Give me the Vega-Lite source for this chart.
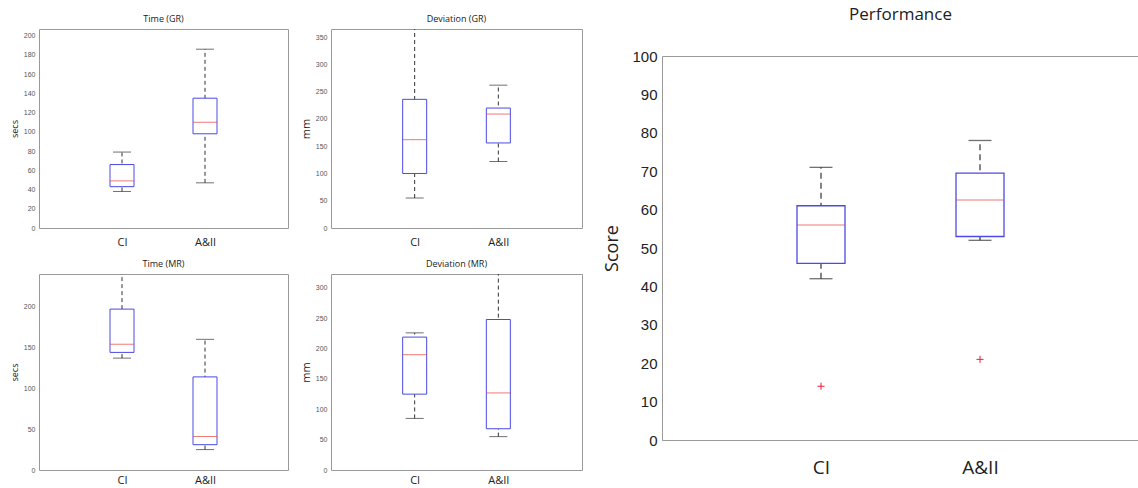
{
  "$schema": "https://vega.github.io/schema/vega-lite/v6.json",
  "padding": {"left": 9, "top": 6, "right": 0, "bottom": 0},
  "background": "white",
  "config": {
    "view": {"stroke": "#999999", "strokeWidth": 1},
    "font": "Liberation Sans",
    "axis": {"labelOverlap": false}
  },
  "datasets": {
    "boxes": [
      {"panel": "Time (GR)", "group": "CI", "low": 38, "q1": 43, "median": 49, "q3": 66, "high": 79},
      {"panel": "Time (GR)", "group": "A&II", "low": 47, "q1": 98, "median": 110, "q3": 135, "high": 186},
      {"panel": "Deviation (GR)", "group": "CI", "low": 55, "q1": 100, "median": 162, "q3": 236, "high": 400},
      {"panel": "Deviation (GR)", "group": "A&II", "low": 122, "q1": 156, "median": 209, "q3": 220, "high": 262},
      {"panel": "Time (MR)", "group": "CI", "low": 137, "q1": 144, "median": 154, "q3": 197, "high": 300},
      {"panel": "Time (MR)", "group": "A&II", "low": 25, "q1": 31, "median": 41, "q3": 114, "high": 160},
      {"panel": "Deviation (MR)", "group": "CI", "low": 85, "q1": 125, "median": 190, "q3": 219, "high": 226},
      {"panel": "Deviation (MR)", "group": "A&II", "low": 55, "q1": 68, "median": 127, "q3": 248, "high": 400},
      {"panel": "Performance", "group": "CI", "low": 42, "q1": 46, "median": 56, "q3": 61, "high": 71},
      {"panel": "Performance", "group": "A&II", "low": 52, "q1": 53, "median": 62.5, "q3": 69.5, "high": 78}
    ],
    "outliers": [
      {"panel": "Performance", "group": "CI", "value": 14},
      {"panel": "Performance", "group": "A&II", "value": 21}
    ],
    "empty": []
  },
  "spacing": 20,
  "hconcat": [
    {
      "columns": 2,
      "spacing": {"row": 11, "column": 10},
      "concat": [
        {
          "width": 249, "height": 199,
          "data": {"name": "boxes"},
          "transform": [{"filter": "datum.panel === 'Time (GR)'"}],
          "title": {"text": "Time (GR)", "fontSize": 9, "fontWeight": "normal", "font": "Open Sans", "color": "#222", "offset": 5},
          "encoding": {
            "x": {"field": "group", "type": "nominal", "sort": ["CI", "A&II"], "scale": {"type": "point", "padding": 1},
                  "axis": {"title": null, "labelAngle": 0, "labelFontSize": 11, "labelFont": "Open Sans", "labelColor": "#222", "labelPadding": 8, "ticks": false, "domain": false}}
          },
          "layer": [
            {"mark": {"type": "rule", "color": "#333", "strokeDash": [4, 3], "clip": true},
             "encoding": {"y": {"field": "low", "type": "quantitative", "scale": {"domain": [0, 207], "nice": false},
                                "axis": {"title": "secs", "values": [0, 20, 40, 60, 80, 100, 120, 140, 160, 180, 200], "tickCount": 30, "labelOverlap": false, "labelFontSize": 7, "labelColor": "#555", "labelPadding": 4, "ticks": false, "domain": false, "grid": false, "titleFontSize": 9, "titleFont": "Open Sans", "titleFontWeight": "normal", "titleColor": "#222", "titlePadding": 4}},
                          "y2": {"field": "high"}}},
            {"mark": {"type": "bar", "size": 24, "fill": "white", "stroke": "#4a4ae8", "strokeWidth": 1, "clip": true},
             "encoding": {"y": {"field": "q1", "type": "quantitative", "title": "secs"}, "y2": {"field": "q3"}}},
            {"mark": {"type": "tick", "size": 24, "thickness": 1, "color": "#e8403a", "clip": true},
             "encoding": {"y": {"field": "median", "type": "quantitative", "title": "secs"}}},
            {"mark": {"type": "tick", "size": 18, "thickness": 1, "color": "#333", "clip": true},
             "encoding": {"y": {"field": "low", "type": "quantitative", "title": "secs"}}},
            {"mark": {"type": "tick", "size": 18, "thickness": 1, "color": "#333", "clip": true},
             "encoding": {"y": {"field": "high", "type": "quantitative", "title": "secs"}}}
          ]
        },
        {
          "width": 251, "height": 199,
          "data": {"name": "boxes"},
          "transform": [{"filter": "datum.panel === 'Deviation (GR)'"}],
          "title": {"text": "Deviation (GR)", "fontSize": 9, "fontWeight": "normal", "font": "Open Sans", "color": "#222", "offset": 5},
          "encoding": {
            "x": {"field": "group", "type": "nominal", "sort": ["CI", "A&II"], "scale": {"type": "point", "padding": 1},
                  "axis": {"title": null, "labelAngle": 0, "labelFontSize": 11, "labelFont": "Open Sans", "labelColor": "#222", "labelPadding": 8, "ticks": false, "domain": false}}
          },
          "layer": [
            {"mark": {"type": "rule", "color": "#333", "strokeDash": [4, 3], "clip": true},
             "encoding": {"y": {"field": "low", "type": "quantitative", "scale": {"domain": [0, 365], "nice": false},
                                "axis": {"title": "mm", "values": [0, 50, 100, 150, 200, 250, 300, 350], "tickCount": 30, "labelOverlap": false, "labelFontSize": 7, "labelColor": "#555", "labelPadding": 4, "ticks": false, "domain": false, "grid": false, "titleFontSize": 11, "titleFont": "Open Sans", "titleFontWeight": "normal", "titleColor": "#222", "titlePadding": 4}},
                          "y2": {"field": "high"}}},
            {"mark": {"type": "bar", "size": 24, "fill": "white", "stroke": "#4a4ae8", "strokeWidth": 1, "clip": true},
             "encoding": {"y": {"field": "q1", "type": "quantitative", "title": "mm"}, "y2": {"field": "q3"}}},
            {"mark": {"type": "tick", "size": 24, "thickness": 1, "color": "#e8403a", "clip": true},
             "encoding": {"y": {"field": "median", "type": "quantitative", "title": "mm"}}},
            {"mark": {"type": "tick", "size": 18, "thickness": 1, "color": "#333", "clip": true},
             "encoding": {"y": {"field": "low", "type": "quantitative", "title": "mm"}}},
            {"mark": {"type": "tick", "size": 18, "thickness": 1, "color": "#333", "clip": true},
             "encoding": {"y": {"field": "high", "type": "quantitative", "title": "mm"}}}
          ]
        },
        {
          "width": 249, "height": 196,
          "data": {"name": "boxes"},
          "transform": [{"filter": "datum.panel === 'Time (MR)'"}],
          "title": {"text": "Time (MR)", "fontSize": 9, "fontWeight": "normal", "font": "Open Sans", "color": "#222", "offset": 5},
          "encoding": {
            "x": {"field": "group", "type": "nominal", "sort": ["CI", "A&II"], "scale": {"type": "point", "padding": 1},
                  "axis": {"title": null, "labelAngle": 0, "labelFontSize": 11, "labelFont": "Open Sans", "labelColor": "#222", "labelPadding": 4, "ticks": false, "domain": false}}
          },
          "layer": [
            {"mark": {"type": "rule", "color": "#333", "strokeDash": [4, 3], "clip": true},
             "encoding": {"y": {"field": "low", "type": "quantitative", "scale": {"domain": [0, 240], "nice": false},
                                "axis": {"title": "secs", "values": [0, 50, 100, 150, 200], "tickCount": 30, "labelOverlap": false, "labelFontSize": 7, "labelColor": "#555", "labelPadding": 4, "ticks": false, "domain": false, "grid": false, "titleFontSize": 9, "titleFont": "Open Sans", "titleFontWeight": "normal", "titleColor": "#222", "titlePadding": 4}},
                          "y2": {"field": "high"}}},
            {"mark": {"type": "bar", "size": 24, "fill": "white", "stroke": "#4a4ae8", "strokeWidth": 1, "clip": true},
             "encoding": {"y": {"field": "q1", "type": "quantitative", "title": "secs"}, "y2": {"field": "q3"}}},
            {"mark": {"type": "tick", "size": 24, "thickness": 1, "color": "#e8403a", "clip": true},
             "encoding": {"y": {"field": "median", "type": "quantitative", "title": "secs"}}},
            {"mark": {"type": "tick", "size": 18, "thickness": 1, "color": "#333", "clip": true},
             "encoding": {"y": {"field": "low", "type": "quantitative", "title": "secs"}}},
            {"mark": {"type": "tick", "size": 18, "thickness": 1, "color": "#333", "clip": true},
             "encoding": {"y": {"field": "high", "type": "quantitative", "title": "secs"}}}
          ]
        },
        {
          "width": 251, "height": 196,
          "data": {"name": "boxes"},
          "transform": [{"filter": "datum.panel === 'Deviation (MR)'"}],
          "title": {"text": "Deviation (MR)", "fontSize": 9, "fontWeight": "normal", "font": "Open Sans", "color": "#222", "offset": 5},
          "encoding": {
            "x": {"field": "group", "type": "nominal", "sort": ["CI", "A&II"], "scale": {"type": "point", "padding": 1},
                  "axis": {"title": null, "labelAngle": 0, "labelFontSize": 11, "labelFont": "Open Sans", "labelColor": "#222", "labelPadding": 4, "ticks": false, "domain": false}}
          },
          "layer": [
            {"mark": {"type": "rule", "color": "#333", "strokeDash": [4, 3], "clip": true},
             "encoding": {"y": {"field": "low", "type": "quantitative", "scale": {"domain": [0, 323], "nice": false},
                                "axis": {"title": "mm", "values": [0, 50, 100, 150, 200, 250, 300], "tickCount": 30, "labelOverlap": false, "labelFontSize": 7, "labelColor": "#555", "labelPadding": 4, "ticks": false, "domain": false, "grid": false, "titleFontSize": 11, "titleFont": "Open Sans", "titleFontWeight": "normal", "titleColor": "#222", "titlePadding": 4}},
                          "y2": {"field": "high"}}},
            {"mark": {"type": "bar", "size": 24, "fill": "white", "stroke": "#4a4ae8", "strokeWidth": 1, "clip": true},
             "encoding": {"y": {"field": "q1", "type": "quantitative", "title": "mm"}, "y2": {"field": "q3"}}},
            {"mark": {"type": "tick", "size": 24, "thickness": 1, "color": "#e8403a", "clip": true},
             "encoding": {"y": {"field": "median", "type": "quantitative", "title": "mm"}}},
            {"mark": {"type": "tick", "size": 18, "thickness": 1, "color": "#333", "clip": true},
             "encoding": {"y": {"field": "low", "type": "quantitative", "title": "mm"}}},
            {"mark": {"type": "tick", "size": 18, "thickness": 1, "color": "#333", "clip": true},
             "encoding": {"y": {"field": "high", "type": "quantitative", "title": "mm"}}}
          ]
        }
      ]
    },
    {
      "spacing": 18,
      "vconcat": [
        {
          "width": 477, "height": 1,
          "view": {"stroke": null},
          "data": {"name": "empty"},
          "title": {"text": "Performance", "fontSize": 17, "fontWeight": "normal", "font": "Open Sans", "color": "#222", "offset": 5},
          "mark": {"type": "point"},
          "encoding": {}
        },
        {
          "width": 477, "height": 384,
          "encoding": {
            "x": {"field": "group", "type": "nominal", "sort": ["CI", "A&II"], "scale": {"type": "point", "padding": 1},
                  "axis": {"title": null, "labelAngle": 0, "labelFontSize": 19, "labelFont": "Open Sans", "labelColor": "#222", "labelPadding": 18, "ticks": false, "domain": false}}
          },
          "layer": [
            {"data": {"name": "boxes"},
             "transform": [{"filter": "datum.panel === 'Performance'"}],
             "layer": [
               {"mark": {"type": "rule", "color": "#333", "strokeDash": [6, 4], "strokeWidth": 1.2, "clip": true},
                "encoding": {"y": {"field": "low", "type": "quantitative", "scale": {"domain": [0, 100], "nice": false},
                                   "axis": {"title": "Score", "values": [0, 10, 20, 30, 40, 50, 60, 70, 80, 90, 100], "tickCount": 30, "labelOverlap": false, "labelFontSize": 15, "labelColor": "#222", "labelPadding": 5, "ticks": false, "domain": false, "grid": false, "titleFontSize": 18, "titleFont": "Open Sans", "titleFontWeight": "normal", "titleColor": "#222", "titlePadding": 10}},
                             "y2": {"field": "high"}}},
               {"mark": {"type": "bar", "size": 48, "fill": "white", "stroke": "#4a4ae8", "strokeWidth": 1.3, "clip": true},
                "encoding": {"y": {"field": "q1", "type": "quantitative", "title": "Score"}, "y2": {"field": "q3"}}},
               {"mark": {"type": "tick", "size": 48, "thickness": 1, "color": "#e8403a", "clip": true},
                "encoding": {"y": {"field": "median", "type": "quantitative", "title": "Score"}}},
               {"mark": {"type": "tick", "size": 23, "thickness": 1.3, "color": "#333", "clip": true},
                "encoding": {"y": {"field": "low", "type": "quantitative", "title": "Score"}}},
               {"mark": {"type": "tick", "size": 23, "thickness": 1.3, "color": "#333", "clip": true},
                "encoding": {"y": {"field": "high", "type": "quantitative", "title": "Score"}}}
             ]},
            {"data": {"name": "outliers"},
             "mark": {"type": "point", "shape": "M-1,0L1,0M0,-1L0,1", "size": 50, "filled": false, "stroke": "#e8203a", "strokeWidth": 1, "opacity": 1},
             "encoding": {"y": {"field": "value", "type": "quantitative", "title": "Score"}}}
          ]
        }
      ]
    }
  ]
}
